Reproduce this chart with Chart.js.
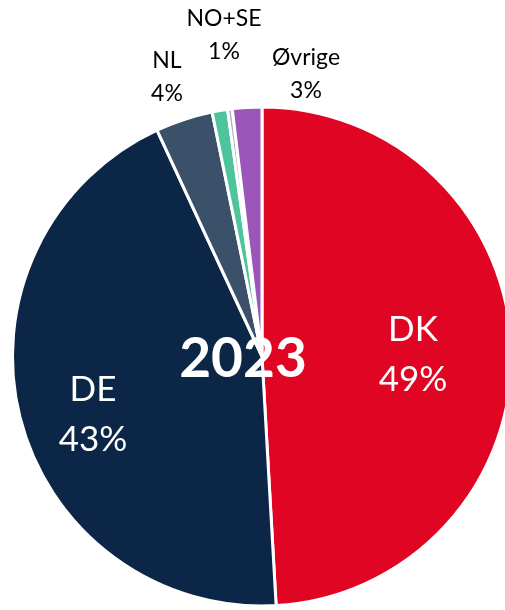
<!DOCTYPE html>
<html>
<head>
<meta charset="utf-8">
<script src="https://cdn.jsdelivr.net/npm/chart.js"></script>
<style>
  html, body { margin: 0; padding: 0; background: #ffffff; overflow: hidden; }
  #wrap { position: absolute; left: 0; top: 0; width: 524px; height: 610px; }
</style>
</head>
<body>
<div id="wrap"><canvas id="pieCanvas"></canvas></div>
<script>
// Market shares 2023
const categories = ['DK', 'DE', 'NL', 'NO+SE', 'Andre', 'Øvrige'];
const shares = [49.0, 43.9, 3.7, 1.0, 0.3, 1.9];
const shareLabels = ['49%', '43%', '4%', '1%', '', '3%'];
const yearLabel = '2023';

const sliceColors = ['#E00522', '#0B2646', '#3B516A', '#4EC49C', '#A9B2C2', '#9C55B9'];

// label placement, relative to pie centre
const labelSpots = [
    { dx: 151, dy: -27, inside: true },
    { dx: -169, dy: 33, inside: true },
    { dx: -95, dy: -296, inside: false },
    { dx: -38, dy: -338, inside: false },
    null,
    { dx: 44, dy: -299, inside: false }
];

const sliceLabels = {
    id: 'sliceLabels',
    afterDraw(chart) {
        const ctx = chart.ctx;
        const meta = chart.getDatasetMeta(0);
        const cx = meta.data[0].x;
        const cy = meta.data[0].y;
        ctx.save();
        ctx.textAlign = 'center';
        ctx.textBaseline = 'middle';
        labelSpots.forEach(function (spot, i) {
            if (!spot) return;
            if (spot.inside) {
                ctx.fillStyle = '#ffffff';
                ctx.font = '35px Lato';
                ctx.fillText(categories[i], cx + spot.dx, cy + spot.dy);
                ctx.fillText(shareLabels[i], cx + spot.dx, cy + spot.dy + 50);
            } else {
                ctx.fillStyle = '#000000';
                ctx.font = '23px Lato';
                ctx.fillText(categories[i], cx + spot.dx, cy + spot.dy);
                ctx.fillText(shareLabels[i], cx + spot.dx, cy + spot.dy + 33);
            }
        });
        ctx.fillStyle = '#ffffff';
        ctx.font = 'bold 55px Lato';
        ctx.fillText(yearLabel, cx - 19, cy + 3);
        ctx.restore();
    }
};

document.addEventListener('DOMContentLoaded', function () {
    const ctx = document.getElementById('pieCanvas').getContext('2d');
    new Chart(ctx, {
        type: 'pie',
        data: {
            labels: categories,
            datasets: [{
                data: shares,
                backgroundColor: sliceColors,
                borderColor: '#ffffff',
                borderWidth: 3
            }]
        },
        options: {
            responsive: true,
            maintainAspectRatio: false,
            animation: false,
            plugins: {
                legend: { display: false },
                tooltip: { enabled: false }
            },
            layout: {
                padding: { top: 105, bottom: 2, left: 11, right: 11 }
            }
        },
        plugins: [sliceLabels]
    });
});
</script>
</body>
</html>
